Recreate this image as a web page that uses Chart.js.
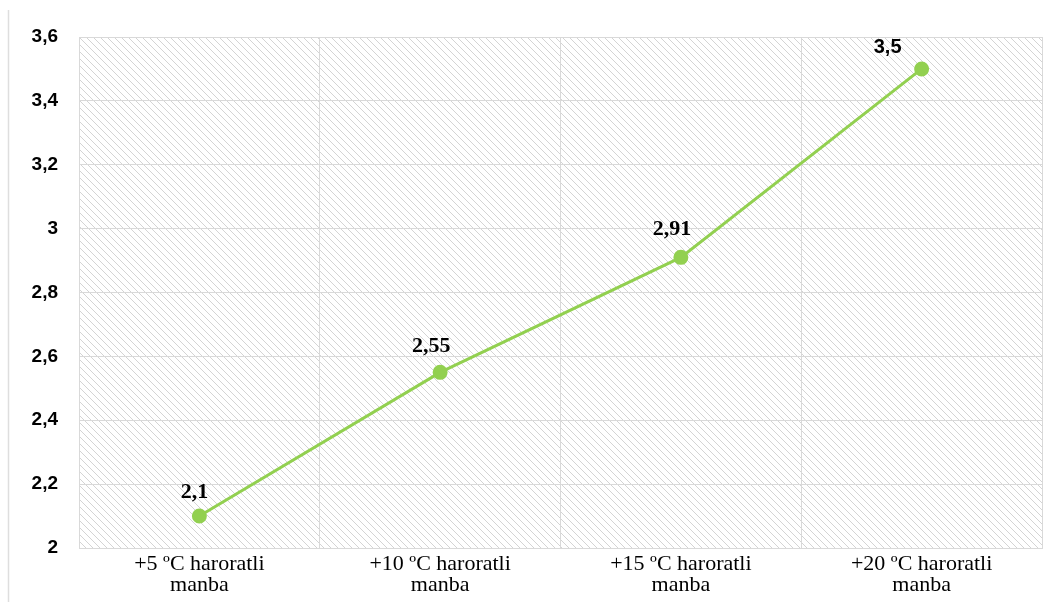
<!DOCTYPE html>
<html>
<head>
<meta charset="utf-8">
<script src="https://cdn.jsdelivr.net/npm/chart.js@4/dist/chart.umd.min.js"></script>
<style>
html,body{margin:0;padding:0;background:#fff;}
canvas{display:block;}
</style>
</head>
<body>
<canvas id="c" width="1054" height="602"></canvas>
<script>
const categories = [
  ["+5 ºC haroratli", "manba"],
  ["+10 ºC haroratli", "manba"],
  ["+15 ºC haroratli", "manba"],
  ["+20 ºC haroratli", "manba"]
];
const values = [2.1, 2.55, 2.91, 3.5];
const valueLabels = ["2,1", "2,55", "2,91", "3,5"];
const yMin = 2, yMax = 3.6, yStep = 0.2;

function makePattern(ctx) {
  const s = 7;
  const c = document.createElement('canvas');
  c.width = s; c.height = s;
  const g = c.getContext('2d');
  g.fillStyle = '#ffffff';
  g.fillRect(0, 0, s, s);
  g.strokeStyle = '#d4d4d4';
  g.lineWidth = 1;
  g.beginPath();
  g.moveTo(-1, -1); g.lineTo(s + 1, s + 1);
  g.moveTo(-1, s - 1); g.lineTo(1, s + 1);
  g.moveTo(s - 1, -1); g.lineTo(s + 1, 1);
  g.stroke();
  return ctx.createPattern(c, 'repeat');
}

const SERIF = '"Liberation Serif", "Times New Roman", serif';
const SANS = '"Liberation Sans", Arial, sans-serif';

const decor = {
  id: 'decor',
  beforeDraw(chart) {
    const {ctx, chartArea: a} = chart;
    ctx.save();
    ctx.fillStyle = makePattern(ctx);
    ctx.fillRect(a.left, a.top, a.right - a.left, a.bottom - a.top);
    ctx.strokeStyle = '#dedede';
    ctx.lineWidth = 1.5;
    ctx.beginPath();
    ctx.moveTo(8.5, 10);
    ctx.lineTo(8.5, 602);
    ctx.stroke();
    ctx.restore();
  },
  afterDatasetsDraw(chart, args, opts) {
    const {ctx} = chart;
    const meta = chart.getDatasetMeta(0);
    ctx.save();
    ctx.fillStyle = '#000';
    ctx.textAlign = 'center';
    ctx.textBaseline = 'middle';
    meta.data.forEach((pt, i) => {
      const o = opts.offsets[i];
      ctx.font = o[2];
      ctx.fillText(valueLabels[i], pt.x + o[0], pt.y + o[1]);
    });
    ctx.restore();
  }
};

new Chart(document.getElementById('c'), {
  type: 'line',
  data: {
    labels: categories,
    datasets: [{
      data: values,
      borderColor: '#92D050',
      backgroundColor: '#92D050',
      borderWidth: 3,
      pointRadius: 6,
      pointHoverRadius: 6,
      pointBackgroundColor: '#92D050',
      pointBorderColor: '#92D050',
      tension: 0,
      fill: false
    }]
  },
  options: {
    responsive: false,
    devicePixelRatio: 1,
    animation: false,
    layout: { padding: { top: 37, right: 12, left: 0, bottom: 0 } },
    plugins: {
      legend: { display: false },
      tooltip: { enabled: false },
      decor: {
        offsets: [
          [-5, -24, 'bold 22px ' + SERIF],
          [-9, -26, 'bold 22px ' + SERIF],
          [-9, -28, 'bold 22px ' + SERIF],
          [-34, -21, 'bold 20px ' + SANS]
        ]
      }
    },
    scales: {
      x: {
        offset: true,
        grid: { offset: true, color: '#d9d9d9', lineWidth: 1, drawTicks: false },
        border: { display: true, color: '#d9d9d9' },
        ticks: {
          color: '#000',
          padding: 6,
          maxRotation: 0,
          autoSkip: false,
          font: { family: SERIF, size: 22, lineHeight: '21px' }
        },
        afterFit(s) { s.height = 54; }
      },
      y: {
        min: yMin,
        max: yMax,
        grid: { color: '#d9d9d9', lineWidth: 1, drawTicks: false },
        border: { display: true, color: '#d9d9d9' },
        ticks: {
          stepSize: yStep,
          color: '#000',
          padding: 21,
          font: { family: SANS, size: 19, weight: 'bold' },
          callback(v) {
            const r = Math.round(v * 10) / 10;
            return String(r).replace('.', ',');
          }
        },
        afterFit(s) { s.width = 79; }
      }
    }
  },
  plugins: [decor]
});
</script>
</body>
</html>
